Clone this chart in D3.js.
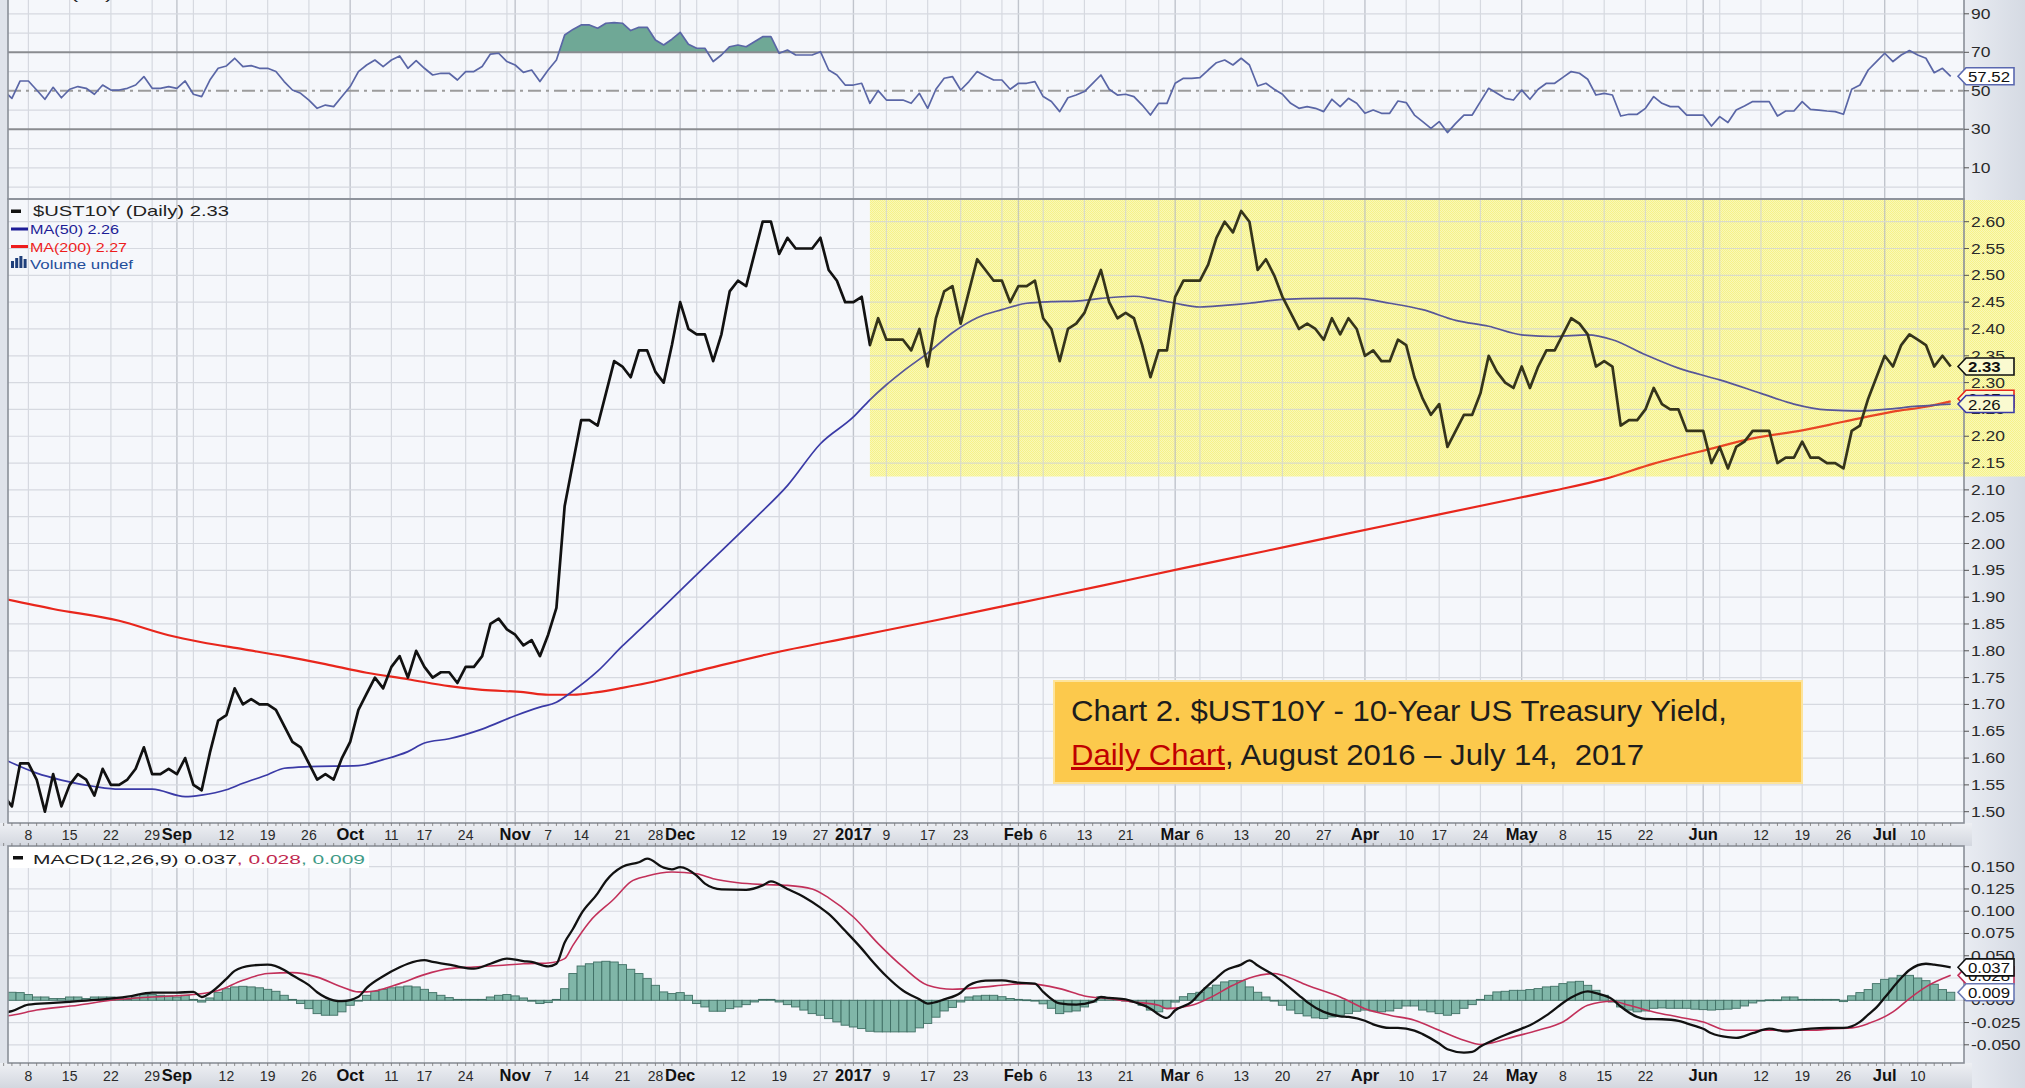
<!DOCTYPE html>
<html>
<head>
<meta charset="utf-8">
<script src="https://cdn.jsdelivr.net/npm/d3@7"></script>
<style>
  html, body { margin: 0; padding: 0; background: #dfe3ea; }
  svg { display: block; }
  text { font-family: "Liberation Sans", Arial, sans-serif; }
</style>
</head>
<body>
<svg id="chart" width="2025" height="1088"></svg>
<script>
// ---- data ----
var startDate = "2016-08-03";
var holidays = ["2016-09-05", "2016-10-10", "2016-11-11", "2016-11-24", "2016-12-26", "2017-01-02",
  "2017-01-16", "2017-02-20", "2017-04-14", "2017-05-29", "2017-07-04"];

// $UST10Y daily close, one value per trading day from Aug 3 2016 to Jul 14 2017
var price = [
  1.53, 1.51, 1.59, 1.59, 1.56, 1.50, 1.57, 1.51, 1.55, 1.57, 1.56, 1.53, 1.58, 1.55, 1.55, 1.56, 1.58, 1.62, 1.57, 1.57, 1.58,
  1.57, 1.60, 1.55, 1.54, 1.61, 1.67, 1.68, 1.73, 1.70, 1.71, 1.70, 1.70, 1.69, 1.66, 1.63, 1.62, 1.59, 1.56, 1.57, 1.56, 1.60,
  1.63, 1.69, 1.72, 1.75, 1.73, 1.77, 1.79, 1.75, 1.80, 1.77, 1.75, 1.76, 1.76, 1.74, 1.77, 1.77, 1.79, 1.85, 1.86, 1.84,
  1.83, 1.81, 1.82, 1.79, 1.83, 1.88, 2.07, 2.15, 2.23, 2.23, 2.22, 2.28, 2.34, 2.33, 2.31, 2.36, 2.36, 2.32, 2.30, 2.37,
  2.45, 2.40, 2.39, 2.39, 2.34, 2.39, 2.47, 2.49, 2.48, 2.54, 2.60, 2.60, 2.54, 2.57, 2.55, 2.55, 2.55, 2.57, 2.51, 2.49, 2.45,
  2.45, 2.46, 2.37, 2.42, 2.38, 2.38, 2.38, 2.36, 2.40, 2.33, 2.42, 2.47, 2.48, 2.41, 2.47, 2.53, 2.51, 2.49, 2.49, 2.45,
  2.48, 2.48, 2.49, 2.42, 2.40, 2.34, 2.40, 2.41, 2.43, 2.47, 2.51, 2.45, 2.42, 2.43, 2.42, 2.37, 2.31, 2.36, 2.36,
  2.46, 2.49, 2.49, 2.49, 2.52, 2.57, 2.60, 2.58, 2.62, 2.60, 2.51, 2.53, 2.50, 2.46, 2.43, 2.40, 2.41, 2.40, 2.38, 2.42, 2.39, 2.42, 2.40,
  2.35, 2.36, 2.34, 2.34, 2.38, 2.37, 2.31, 2.27, 2.24, 2.26, 2.18, 2.21, 2.24, 2.24, 2.28, 2.35, 2.32, 2.30, 2.29,
  2.33, 2.29, 2.33, 2.36, 2.36, 2.39, 2.42, 2.41, 2.39, 2.33, 2.34, 2.33, 2.22, 2.23, 2.23, 2.25, 2.29, 2.26, 2.25, 2.25, 2.21, 2.21,
  2.21, 2.15, 2.18, 2.14, 2.18, 2.19, 2.21, 2.21, 2.21, 2.15, 2.16, 2.16, 2.19, 2.16, 2.16, 2.15, 2.15, 2.14, 2.21, 2.22, 2.27, 2.31,
  2.35, 2.33, 2.37, 2.39, 2.38, 2.37, 2.33, 2.35, 2.33
];

// RSI(14), same days
var rsi = [
  50, 46.1, 55.1, 55.1, 50.4, 45.6, 51.8, 46.4, 50.8, 52.2, 51.3, 48.2, 53.0, 50.4, 50.4, 51.3, 53.0, 57.4, 51.3, 51.3, 52.2,
  51.3, 55.1, 48.2, 47.0, 55.6, 61.7, 62.9, 66.9, 62.6, 63.1, 61.7, 61.7, 60.0, 54.8, 50.4, 48.7, 45.2, 40.9, 42.6, 41.8, 47.0,
  52.2, 60.0, 63.4, 66.0, 62.6, 66.0, 68.1, 61.7, 65.7, 61.7, 58.2, 59.1, 59.1, 55.6, 60.0, 60.0, 62.6, 69.1, 69.5, 65.2,
  63.4, 59.6, 60.8, 54.8, 60.8, 66.0, 79.0, 81.9, 84.2, 84.2, 82.5, 85.1, 85.4, 85.1, 81.3, 83.0, 83.0, 76.4, 73.8, 76.8,
  80.4, 74.2, 72.1, 72.1, 65.2, 68.6, 72.9, 73.8, 72.9, 75.5, 78.1, 78.1, 69.5, 71.2, 68.6, 68.6, 68.6, 70.3, 60.8, 58.2, 53.0,
  53.0, 53.9, 43.5, 50.1, 45.2, 45.2, 45.2, 43.5, 48.7, 40.9, 50.8, 56.5, 57.4, 50.4, 54.8, 60.0, 57.7, 55.6, 55.6, 50.8,
  53.9, 53.9, 54.8, 47.0, 44.4, 39.2, 46.4, 47.8, 49.6, 53.9, 58.2, 50.8, 47.8, 48.2, 47.0, 42.6, 37.4, 43.5, 43.5,
  53.9, 56.5, 56.5, 56.8, 60.8, 64.6, 66.0, 63.4, 66.9, 63.4, 52.5, 53.9, 50.8, 48.2, 43.5, 40.9, 41.8, 40.9, 39.2, 45.6, 41.8, 46.1, 43.5,
  38.3, 40.0, 38.3, 38.3, 44.7, 43.9, 37.4, 34.0, 30.5, 34.0, 28.3, 33.1, 37.4, 37.4, 44.4, 51.3, 48.7, 46.1, 45.2,
  50.4, 45.6, 50.8, 53.9, 53.9, 57.0, 60.0, 59.1, 56.0, 47.8, 48.7, 47.8, 36.9, 37.8, 37.8, 40.9, 47.0, 43.5, 41.8, 41.8, 37.4, 37.4,
  37.4, 31.7, 36.6, 33.5, 40.0, 42.1, 44.4, 44.4, 44.4, 36.9, 39.5, 39.5, 44.4, 40.4, 40.0, 39.5, 39.2, 37.8, 50.8, 53.0, 60.8, 65.2,
  69.5, 65.2, 68.6, 70.9, 68.6, 66.9, 59.4, 61.7, 57.5
];

// MACD histogram, same days
var hist = [
  0.009, 0.009, 0.0086, 0.0064, 0.0037, 0.0037, 0.0019, 0.0019, 0.0037, 0.0037, 0.0019, 0.0037, 0.0037, 0.0037, 0.0026, 0.001, 0.0037, 0.0064, 0.0064, 0.0056, 0.0049,
  0.0037, 0.0056, 0.001, -0.002, 0.0026, 0.009, 0.013, 0.015, 0.0157, 0.015, 0.014, 0.0123, 0.0101, 0.0056, 0.001, -0.0037, -0.0094, -0.015, -0.0168, -0.0168, -0.013,
  -0.0056, 0, 0.0056, 0.0101, 0.0123, 0.014, 0.015, 0.016, 0.015, 0.0123, 0.0086, 0.0056, 0.003, 0.001, 0.001, 0.001, 0.001, 0.0037, 0.0056, 0.0064,
  0.0049, 0.0026, -0.001, -0.0037, -0.0026, 0.001, 0.013, 0.030, 0.0385, 0.041, 0.043, 0.0438, 0.043, 0.040, 0.0348, 0.030, 0.0243, 0.0168, 0.0094, 0.0075,
  0.0086, 0.0056, -0.0037, -0.0075, -0.0123, -0.0123, -0.0094, -0.0075, -0.0049, -0.0019, 0.001, 0.001, -0.0019, -0.0049, -0.0075, -0.011, -0.015, -0.0168, -0.0206, -0.0243, -0.028,
  -0.030, -0.0318, -0.0348, -0.0355, -0.0355, -0.0355, -0.0355, -0.0355, -0.031, -0.026, -0.019, -0.012, -0.008, -0.0019, 0.0037, 0.0049, 0.0056, 0.0056, 0.004, 0.002,
  0.001, 0.0005, 0, -0.004, -0.009, -0.015, -0.013, -0.012, -0.0075, -0.002, 0.004, 0.003, 0.001, 0, -0.002, -0.0056, -0.011, -0.013, -0.009,
  -0.002, 0.004, 0.0075, 0.009, 0.014, 0.017, 0.0206, 0.022, 0.022, 0.015, 0.009, 0.0037, 0, -0.0056, -0.011, -0.015, -0.0176, -0.0198, -0.0206, -0.0187, -0.0168, -0.015, -0.0123,
  -0.011, -0.012, -0.013, -0.012, -0.009, -0.0064, -0.0064, -0.011, -0.013, -0.015, -0.0168, -0.015, -0.009, -0.0049, 0.001, 0.0056, 0.0094, 0.0101, 0.0112,
  0.0112, 0.012, 0.0131, 0.015, 0.0157, 0.0187, 0.0206, 0.0213, 0.0168, 0.0112, 0.0056, -0.002, -0.0075, -0.011, -0.013, -0.012, -0.009, -0.0086, -0.009, -0.009, -0.009, -0.010,
  -0.0105, -0.011, -0.0105, -0.010, -0.009, -0.0064, -0.003, 0, 0.0005, 0.0005, 0.0037, 0.0037, 0.001, 0.001, 0.001, 0.001, 0.001, -0.0015, 0.005, 0.0086, 0.012, 0.0187,
  0.0235, 0.025, 0.028, 0.028, 0.025, 0.022, 0.018, 0.012, 0.009
];

// smooth lines, read at knots; day numbers count trading days from Aug 8 2016
var knotBase = "2016-08-08";
var ma50Day = [-3, 1, 4, 8, 11, 15, 19, 21, 24, 26, 29, 31, 34, 40, 43, 46, 48, 51, 55, 59, 62, 64, 66, 69, 72, 74, 81, 88, 92, 96,
  100, 102, 104, 106, 109, 112, 115, 118, 121, 124, 127, 130, 134, 136, 139, 142, 145, 148, 152, 157, 161, 165, 169, 173, 177, 181,
  185, 189, 192, 196, 200, 205, 210, 214, 218, 222, 225, 229, 233];
var ma50 = [1.598, 1.572, 1.559, 1.547, 1.542, 1.542, 1.528, 1.531, 1.541, 1.553, 1.569, 1.581, 1.584, 1.586, 1.597, 1.612, 1.628,
  1.636, 1.654, 1.679, 1.695, 1.704, 1.725, 1.762, 1.809, 1.838, 1.942, 2.046, 2.108, 2.186, 2.236, 2.268, 2.296, 2.321, 2.355, 2.393,
  2.421, 2.436, 2.448, 2.451, 2.452, 2.457, 2.461, 2.457, 2.448, 2.441, 2.444, 2.448, 2.455, 2.457, 2.457, 2.448, 2.436, 2.416, 2.405,
  2.389, 2.386, 2.389, 2.38, 2.352, 2.327, 2.305, 2.28, 2.26, 2.249, 2.247, 2.25, 2.256, 2.26];
var ma200Day = [-3, 3, 11, 17, 21, 26, 31, 36, 41, 46, 51, 55, 60, 63, 66, 69, 72, 75, 81, 90, 100, 110, 120, 130, 140, 150, 160,
  170, 180, 185, 191, 197, 204, 209, 215, 220, 226, 230, 233];
var ma200 = [1.897, 1.878, 1.856, 1.829, 1.816, 1.803, 1.79, 1.775, 1.759, 1.747, 1.734, 1.727, 1.723, 1.718, 1.718, 1.723, 1.731,
  1.74, 1.762, 1.795, 1.826, 1.857, 1.889, 1.921, 1.954, 1.986, 2.019, 2.051, 2.083, 2.099, 2.12, 2.149, 2.177, 2.196, 2.211, 2.227,
  2.246, 2.255, 2.265];
var macdDay = [-3, -2, 0, 3, 6, 9, 12, 15, 18, 20, 21, 22, 24, 25, 27, 29, 31, 32, 34, 35, 37, 38, 40, 41, 43, 45, 46, 48, 49, 51,
  52, 54, 56, 58, 60, 61, 63, 64, 65, 66, 67, 69, 70, 72, 74, 75, 77, 78, 79, 81, 82, 84, 87, 89, 90, 92, 94, 96, 97, 99,
  101, 102, 104, 106, 108, 109, 111, 113, 114, 116, 118, 120, 122, 123, 125, 127, 129, 130, 131, 133, 134, 136, 137, 138, 139, 141,
  142, 144, 145, 147, 148, 149, 151, 152, 154, 155, 157, 159, 160, 162, 163, 165, 166, 168, 169, 171, 172, 174, 175, 176, 178, 179,
  181, 182, 184, 186, 187, 189, 190, 192, 193, 195, 196, 198, 200, 201, 203, 204, 206, 207, 209, 211, 213, 214, 216, 218, 220, 222,
  223, 224, 225, 227, 228, 230, 231, 233];
var macd = [-0.014, -0.0123, -0.0049, -0.003, -0.001, 0.001, 0.004, 0.0086, 0.0086, 0.0094, 0.0037, 0.008, 0.024, 0.033, 0.039,
  0.040, 0.034, 0.028, 0.017, 0.009, 0.0, -0.001, 0.004, 0.014, 0.027, 0.037, 0.041, 0.045, 0.043, 0.040, 0.038, 0.0355, 0.041,
  0.0468, 0.044, 0.043, 0.038, 0.041, 0.065, 0.080, 0.097, 0.120, 0.134, 0.150, 0.155, 0.159, 0.149, 0.147, 0.1496, 0.140, 0.131,
  0.1245, 0.124, 0.129, 0.1335, 0.125, 0.116, 0.104, 0.097, 0.078, 0.058, 0.047, 0.027, 0.011, 0.001, -0.0037, 0.001, 0.0085,
  0.0168, 0.022, 0.0224, 0.0198, 0.0187, 0.0094, -0.0035, -0.0049, -0.0019, 0.0037, 0.0026, 0.0011, -0.0019, -0.0094, -0.016,
  -0.0198, -0.0112, -0.0019, 0.008, 0.025, 0.033, 0.040, 0.0449, 0.039, 0.028, 0.021, 0.0056, -0.002, -0.013, -0.018, -0.0187,
  -0.023, -0.027, -0.031, -0.031, -0.034, -0.038, -0.0486, -0.055, -0.0587, -0.058, -0.052, -0.043, -0.039, -0.0318, -0.028,
  -0.017, -0.003, 0.003, 0.010, 0.008, 0.001, -0.007, -0.0187, -0.021, -0.0213, -0.023, -0.026, -0.032, -0.037, -0.0415, -0.0423,
  -0.037, -0.0318, -0.035, -0.0337, -0.0318, -0.031, -0.031, -0.0243, -0.016, -0.008, 0.003, 0.025, 0.034, 0.041, 0.040, 0.037];
var signalDay = [-3, -2, 1, 6, 10, 15, 20, 23, 26, 29, 32, 35, 38, 40, 41, 45, 48, 51, 54, 57, 60, 63, 65, 66, 68, 71, 73, 75, 78,
  81, 83, 86, 89, 92, 95, 97, 100, 103, 106, 109, 112, 116, 118, 121, 125, 128, 131, 134, 137, 138, 141, 143, 146, 148, 151, 152,
  155, 159, 162, 165, 168, 171, 174, 176, 177, 180, 183, 186, 189, 192, 194, 197, 200, 203, 206, 210, 213, 216, 219, 221, 223, 226,
  228, 230, 233];
var signal = [-0.018, -0.0168, -0.011, -0.0056, 0, 0.0037, 0.0064, 0.011, 0.0224, 0.030, 0.031, 0.026, 0.015, 0.0094, 0.0094,
  0.0187, 0.0288, 0.0355, 0.0374, 0.039, 0.041, 0.0419, 0.0468, 0.0617, 0.088, 0.114, 0.133, 0.1395, 0.144, 0.142, 0.1365, 0.132,
  0.130, 0.129, 0.125, 0.115, 0.0935, 0.0636, 0.0374, 0.0168, 0.0123, 0.015, 0.0168, 0.0187, 0.0131, 0.0049, 0.0019, -0.0019,
  -0.0056, -0.0094, -0.0056, 0.0019, 0.0168, 0.025, 0.030, 0.028, 0.0168, 0.0037, -0.0094, -0.0168, -0.0224, -0.0337, -0.0449,
  -0.0497, -0.0486, -0.0411, -0.0337, -0.0243, -0.0056, -0.0011, -0.0056, -0.0131, -0.0187, -0.0243, -0.0337, -0.0337, -0.0337,
  -0.0337, -0.0318, -0.031, -0.0262, -0.0131, 0.0019, 0.015, 0.028];

// x axis labels
var tickDates = ["2016-08-08", "2016-08-15", "2016-08-22", "2016-08-29", "2016-09-01", "2016-09-12", "2016-09-19", "2016-09-26",
  "2016-10-03", "2016-10-11", "2016-10-17", "2016-10-24", "2016-11-01", "2016-11-07", "2016-11-14", "2016-11-21", "2016-11-28",
  "2016-12-01", "2016-12-12", "2016-12-19", "2016-12-27", "2017-01-03", "2017-01-09", "2017-01-17", "2017-01-23", "2017-02-01",
  "2017-02-06", "2017-02-13", "2017-02-21", "2017-03-01", "2017-03-06", "2017-03-13", "2017-03-20", "2017-03-27", "2017-04-03",
  "2017-04-10", "2017-04-17", "2017-04-24", "2017-05-01", "2017-05-08", "2017-05-15", "2017-05-22", "2017-06-01", "2017-06-12",
  "2017-06-19", "2017-06-26", "2017-07-03", "2017-07-10"];
var tickLabels = ["8", "15", "22", "29", "Sep", "12", "19", "26", "Oct", "11", "17", "24", "Nov", "7", "14", "21", "28", "Dec",
  "12", "19", "27", "2017", "9", "17", "23", "Feb", "6", "13", "21", "Mar", "6", "13", "20", "27", "Apr", "10", "17", "24", "May",
  "8", "15", "22", "Jun", "12", "19", "26", "Jul", "10"];

var rsiTicks = [10, 30, 50, 70, 90];
var priceTicks = d3.range(0, 23).map(function (i) { return +(1.50 + i * 0.05).toFixed(2); });
var macdTicks = [-0.05, -0.025, 0, 0.025, 0.05, 0.075, 0.1, 0.125, 0.15];

var hiliteStart = "2017-01-05", hiliteFloor = 2.125;
var lastClose = 2.33, lastMa50 = 2.26, lastMa200 = 2.27, lastRsi = 57.52;
var lastMacd = 0.037, lastSignal = 0.028, lastHist = 0.009;

// ---- layout ----
var W = 2025, H = 1088;
var plotL = 8, plotR = 1964;
var rsiBot = 199, mainTop = 199, mainBot = 823, macdTop = 846, macdBot = 1063;

// trading calendar
var fmt = d3.timeFormat("%Y-%m-%d");
var dates = [];
var cur = new Date(startDate + "T12:00:00");
while (dates.length < price.length) {
  var s = fmt(cur), wd = cur.getDay();
  if (wd !== 0 && wd !== 6 && holidays.indexOf(s) < 0) dates.push(s);
  cur.setDate(cur.getDate() + 1);
}
var dayOf = {};
dates.forEach(function (s, i) { dayOf[s] = i; });
var k0 = dayOf[knotBase];

var minorDays = [], majorDays = [];
dates.forEach(function (s, i) {
  if (i === 0) return;
  var a = new Date(s + "T12:00:00"), b = new Date(dates[i - 1] + "T12:00:00");
  if (a.getMonth() !== b.getMonth()) majorDays.push(i);
  else if (d3.timeMonday.floor(a).getTime() !== d3.timeMonday.floor(b).getTime()) minorDays.push(i);
});

var x = d3.scaleLinear().domain([k0, k0 + 229]).range([28.4, 1917.7]);
var yRsi = d3.scaleLinear().domain([30, 70]).range([129.3, 52.3]);
var yPrice = d3.scaleLinear().domain([1.50, 2.60]).range([811.7, 221.7]);
var yMacd = d3.scaleLinear().domain([-0.05, 0.15]).range([1044.8, 866.7]);

var svg = d3.select("#chart");
var defs = svg.append("defs");

var bandGrad = defs.append("linearGradient").attr("id", "bandGrad")
  .attr("x1", 0).attr("y1", 0).attr("x2", 0).attr("y2", 1);
bandGrad.append("stop").attr("offset", "0%").attr("stop-color", "#eef0f4");
bandGrad.append("stop").attr("offset", "100%").attr("stop-color", "#d3d7df");
var sideGrad = defs.append("linearGradient").attr("id", "sideGrad")
  .attr("x1", 0).attr("y1", 0).attr("x2", 1).attr("y2", 0);
sideGrad.append("stop").attr("offset", "0%").attr("stop-color", "#e9ecf2");
sideGrad.append("stop").attr("offset", "100%").attr("stop-color", "#d5dae3");

// fine yellow dither used by the highlight box
var pat = defs.append("pattern").attr("id", "hilite")
  .attr("width", 2).attr("height", 2).attr("patternUnits", "userSpaceOnUse");
pat.append("rect").attr("width", 2).attr("height", 2).attr("fill", "#fbfbcc");
pat.append("rect").attr("width", 1).attr("height", 1).attr("fill", "#f7f495");
pat.append("rect").attr("x", 1).attr("y", 1).attr("width", 1).attr("height", 1).attr("fill", "#f7f495");

function clip(id, top, bot) {
  defs.append("clipPath").attr("id", id).append("rect")
    .attr("x", plotL).attr("y", top).attr("width", plotR - plotL).attr("height", bot - top);
  return "url(#" + id + ")";
}

// backgrounds
svg.append("rect").attr("width", W).attr("height", H).attr("fill", "#dfe3ea");
svg.append("rect").attr("x", plotR).attr("width", W - plotR).attr("height", H).attr("fill", "url(#sideGrad)");
svg.append("rect").attr("x", 0).attr("y", mainBot).attr("width", plotR + 8).attr("height", macdTop - mainBot).attr("fill", "url(#bandGrad)");
svg.append("rect").attr("x", 0).attr("y", macdBot).attr("width", plotR + 8).attr("height", H - macdBot).attr("fill", "url(#bandGrad)");

var hx = x(dayOf[hiliteStart]);
var hy0 = mainTop + 1, hy1 = yPrice(hiliteFloor);

var panels = [
  { id: "rsiClip", top: -10, bot: rsiBot },
  { id: "mainClip", top: mainTop, bot: mainBot },
  { id: "macdClip", top: macdTop, bot: macdBot }
];
panels.forEach(function (p, pi) {
  p.clip = clip(p.id, p.top, p.bot);
  svg.append("rect").attr("x", plotL).attr("y", p.top).attr("width", plotR - plotL)
    .attr("height", p.bot - p.top).attr("fill", "#f5f7fb");
  if (pi === 1) {
    // yellow highlight base, under grid and lines
    svg.append("rect").attr("x", hx).attr("y", hy0).attr("width", W - hx)
      .attr("height", hy1 - hy0).attr("fill", "url(#hilite)");
  }
  var g = svg.append("g").attr("clip-path", p.clip);
  g.selectAll(".vmin").data(minorDays).enter().append("line")
    .attr("x1", function (d) { return x(d); }).attr("x2", function (d) { return x(d); })
    .attr("y1", p.top).attr("y2", p.bot).attr("stroke", "#d6d9e0").attr("stroke-width", 1.2);
  g.selectAll(".vmaj").data(majorDays).enter().append("line")
    .attr("x1", function (d) { return x(d); }).attr("x2", function (d) { return x(d); })
    .attr("y1", p.top).attr("y2", p.bot).attr("stroke", "#c0c4cc").attr("stroke-width", 1.4);
  p.g = g;
});

// horizontal grids
function hgrid(g, vals, scale) {
  g.selectAll(null).data(vals).enter().append("line")
    .attr("x1", plotL).attr("x2", plotR)
    .attr("y1", function (d) { return scale(d); }).attr("y2", function (d) { return scale(d); })
    .attr("stroke", "#d6d9e0").attr("stroke-width", 1.2);
}
hgrid(panels[0].g, [0, 10, 20, 40, 60, 80, 90, 100], yRsi);
hgrid(panels[1].g, priceTicks, yPrice);
hgrid(panels[2].g, d3.range(-3, 8).map(function (i) { return i * 0.025; }), yMacd);

// ---- RSI panel ----
var gR = panels[0].g;
var rsiPts = rsi.map(function (v, i) { return [i, v]; });
var rsiArea = d3.area().x(function (d) { return x(d[0]); }).y1(function (d) { return yRsi(d[1]); });
defs.append("clipPath").attr("id", "above70").append("rect")
  .attr("x", plotL).attr("y", -10).attr("width", plotR - plotL).attr("height", yRsi(70) + 10);
defs.append("clipPath").attr("id", "below30").append("rect")
  .attr("x", plotL).attr("y", yRsi(30)).attr("width", plotR - plotL).attr("height", rsiBot - yRsi(30));
gR.append("path").datum(rsiPts).attr("clip-path", "url(#above70)")
  .attr("d", rsiArea.y0(yRsi(70))).attr("fill", "#6fa896");
gR.append("path").datum(rsiPts).attr("clip-path", "url(#below30)")
  .attr("d", rsiArea.y0(yRsi(30))).attr("fill", "#6fa896");
[30, 70].forEach(function (v) {
  gR.append("line").attr("x1", plotL).attr("x2", plotR).attr("y1", yRsi(v)).attr("y2", yRsi(v))
    .attr("stroke", "#8a8c90").attr("stroke-width", 2);
});
gR.append("line").attr("x1", plotL).attr("x2", plotR).attr("y1", yRsi(50)).attr("y2", yRsi(50))
  .attr("stroke", "#9c9c9c").attr("stroke-width", 2).attr("stroke-dasharray", "13,5,3,5");
gR.append("path").datum(rsiPts)
  .attr("d", d3.line().x(function (d) { return x(d[0]); }).y(function (d) { return yRsi(d[1]); }))
  .attr("fill", "none").attr("stroke", "#5a66a6").attr("stroke-width", 1.7).attr("stroke-linejoin", "round");
svg.append("text").attr("x", 30).attr("y", -1).attr("font-size", 15).attr("fill", "#222")
  .attr("textLength", 150).attr("lengthAdjust", "spacingAndGlyphs").text("RSI(14) 57.52");

// ---- price panel ----
var gP = panels[1].g;
function knotLine(days, vals, scale) {
  var pts = days.map(function (d, i) { return [k0 + d, vals[i]]; });
  return d3.line().curve(d3.curveMonotoneX)
    .x(function (d) { return x(d[0]); }).y(function (d) { return scale(d[1]); })(pts);
}
gP.append("path").attr("d", knotLine(ma200Day, ma200, yPrice))
  .attr("fill", "none").attr("stroke", "#e8261c").attr("stroke-width", 2.2);
gP.append("path").attr("d", knotLine(ma50Day, ma50, yPrice))
  .attr("fill", "none").attr("stroke", "#3a3aa6").attr("stroke-width", 1.7);
gP.append("path").datum(price)
  .attr("d", d3.line().x(function (d, i) { return x(i); }).y(function (d) { return yPrice(d); }))
  .attr("fill", "none").attr("stroke", "#111").attr("stroke-width", 2.7).attr("stroke-linejoin", "round");

// legend
var leg = svg.append("g");
leg.append("rect").attr("x", 11).attr("y", 209.5).attr("width", 10).attr("height", 3.5).attr("fill", "#111");
leg.append("text").attr("x", 33).attr("y", 216).attr("font-size", 14.5).attr("fill", "#222")
  .attr("textLength", 196).attr("lengthAdjust", "spacingAndGlyphs").text("$UST10Y (Daily) 2.33");
leg.append("rect").attr("x", 11).attr("y", 227.5).attr("width", 17).attr("height", 3).attr("fill", "#1c1c96");
leg.append("text").attr("x", 30).attr("y", 234).attr("font-size", 12.5).attr("fill", "#1c1c96")
  .attr("textLength", 89).attr("lengthAdjust", "spacingAndGlyphs").text("MA(50) 2.26");
leg.append("rect").attr("x", 11).attr("y", 245).attr("width", 17).attr("height", 3).attr("fill", "#ee1c1c");
leg.append("text").attr("x", 30).attr("y", 251.5).attr("font-size", 12.5).attr("fill", "#ee1c1c")
  .attr("textLength", 97).attr("lengthAdjust", "spacingAndGlyphs").text("MA(200) 2.27");
[0, 1, 2, 3].forEach(function (i) {
  var hts = [7, 10, 12, 9];
  leg.append("rect").attr("x", 11 + i * 4.2).attr("y", 268 - hts[i]).attr("width", 3)
    .attr("height", hts[i]).attr("fill", "#1f3f7a");
});
leg.append("text").attr("x", 30).attr("y", 268.5).attr("font-size", 12.5).attr("fill", "#1f4e9a")
  .attr("textLength", 103).attr("lengthAdjust", "spacingAndGlyphs").text("Volume undef");

// ---- MACD panel ----
var gM = panels[2].g;
gM.selectAll(".bar").data(hist).enter().append("rect")
  .attr("x", function (d, i) { return x(i) - 4.1; })
  .attr("width", 8.2)
  .attr("y", function (d) { return Math.min(yMacd(d), yMacd(0)); })
  .attr("height", function (d) { return Math.max(0.8, Math.abs(yMacd(d) - yMacd(0))); })
  .attr("fill", "#80b6a8").attr("stroke", "#3f6f64").attr("stroke-width", 0.9);
gM.append("path").attr("d", knotLine(signalDay, signal, yMacd))
  .attr("fill", "none").attr("stroke", "#c2305a").attr("stroke-width", 1.6);
gM.append("path").attr("d", knotLine(macdDay, macd, yMacd))
  .attr("fill", "none").attr("stroke", "#111").attr("stroke-width", 2.3);
svg.append("rect").attr("x", plotL + 1).attr("y", macdTop + 1).attr("width", 360).attr("height", 21).attr("fill", "#fff");
svg.append("rect").attr("x", 13).attr("y", 856).attr("width", 10).attr("height", 3.5).attr("fill", "#111");
var mt = svg.append("text").attr("x", 33).attr("y", 863.5).attr("font-size", 13.5)
  .attr("textLength", 332).attr("lengthAdjust", "spacingAndGlyphs");
mt.append("tspan").attr("fill", "#222").text("MACD(12,26,9) " + lastMacd.toFixed(3));
mt.append("tspan").attr("fill", "#c0284f").text(", " + lastSignal.toFixed(3));
mt.append("tspan").attr("fill", "#3f9a86").text(", " + lastHist.toFixed(3));

// thin yellow veil over the lines inside the highlight
svg.append("rect").attr("x", hx).attr("y", hy0).attr("width", W - hx)
  .attr("height", hy1 - hy0).attr("fill", "#f4ee50").attr("opacity", 0.16);

// panel borders
panels.forEach(function (p) {
  svg.append("rect").attr("x", plotL).attr("y", p.top).attr("width", plotR - plotL)
    .attr("height", p.bot - p.top).attr("fill", "none").attr("stroke", "#8a8f98").attr("stroke-width", 1.6);
});

// ---- right axes ----
function stext(parent, tx, ty, str, size, sx) {
  return parent.append("text")
    .attr("transform", "translate(" + tx + "," + ty + ") scale(" + sx + ",1)")
    .attr("font-size", size).text(str);
}
var ax = svg.append("g").attr("fill", "#2a2a2a");
function rightAxis(vals, scale, fmtf) {
  vals.forEach(function (v) {
    ax.append("line").attr("x1", plotR).attr("x2", plotR + 5).attr("y1", scale(v)).attr("y2", scale(v))
      .attr("stroke", "#555").attr("stroke-width", 1);
    stext(ax, plotR + 7, scale(v) + 5, fmtf(v), 14, 1.25);
  });
}
rightAxis(rsiTicks, yRsi, function (v) { return String(v); });
rightAxis(priceTicks, yPrice, function (v) { return v.toFixed(2); });
rightAxis(macdTicks, yMacd, function (v) { return v.toFixed(3); });

// ---- x bands ----
function band(top, bot) {
  var g = svg.append("g");
  g.selectAll(null).data(dates).enter().append("line")
    .attr("x1", function (d, i) { return x(i); }).attr("x2", function (d, i) { return x(i); })
    .attr("y1", top).attr("y2", top + 3).attr("stroke", "#777").attr("stroke-width", 0.8);
  if (bot) {
    g.selectAll(null).data(dates).enter().append("line")
      .attr("x1", function (d, i) { return x(i); }).attr("x2", function (d, i) { return x(i); })
      .attr("y1", bot - 3).attr("y2", bot).attr("stroke", "#777").attr("stroke-width", 0.8);
  }
  return g;
}
function bandLabels(g, base) {
  tickDates.forEach(function (s, i) {
    var lab = tickLabels[i];
    var bold = isNaN(+lab) || lab === "2017";
    g.append("text").attr("x", x(dayOf[s])).attr("y", base)
      .attr("text-anchor", "middle")
      .attr("font-size", bold ? 16.5 : 14)
      .attr("font-weight", bold ? "bold" : "normal")
      .attr("fill", bold ? "#111" : "#2a2a2a")
      .text(lab);
  });
}
bandLabels(band(mainBot, macdTop), 840);
bandLabels(band(macdBot, null), 1081);

// ---- value tags ----
function tag(yc, str, stroke, bold, fill) {
  var x0 = plotR - 6, h = 17, w = 48;
  svg.append("path")
    .attr("d", "M" + x0 + "," + yc + "L" + (x0 + 8) + "," + (yc - h / 2) + "H" + (x0 + 8 + w) +
      "V" + (yc + h / 2) + "H" + (x0 + 8) + "Z")
    .attr("fill", fill || "#fff").attr("stroke", stroke).attr("stroke-width", 1.6);
  stext(svg, x0 + 10, yc + 5.5, str, 14, 1.2)
    .attr("fill", "#111").attr("font-weight", bold ? "bold" : "normal");
}
tag(yRsi(lastRsi), lastRsi.toFixed(2), "#5a68b0");
tag(yPrice(lastMa200), lastMa200.toFixed(2), "#e8261c", false, "#fafad0");
tag(yPrice(lastMa50), lastMa50.toFixed(2), "#3a3aa6", false, "#fafad0");
tag(yPrice(lastClose), lastClose.toFixed(2), "#111", true, "#fafad0");
tag(yMacd(lastSignal), lastSignal.toFixed(3), "#c2305a");
tag(yMacd(lastMacd), lastMacd.toFixed(3), "#111");
tag(yMacd(lastHist), lastHist.toFixed(3), "#6a78b4");

// ---- caption box ----
var cap = svg.append("g");
cap.append("rect").attr("x", 1054).attr("y", 681).attr("width", 748).attr("height", 102)
  .attr("fill", "#fcc94c").attr("stroke", "#fde49c").attr("stroke-width", 2);
cap.append("text").attr("x", 1071).attr("y", 721).attr("font-family", "Lato, 'Open Sans', sans-serif")
  .attr("font-size", 30).attr("fill", "#1d1d1d")
  .attr("textLength", 656).attr("lengthAdjust", "spacingAndGlyphs")
  .text("Chart 2. $UST10Y - 10-Year US Treasury Yield,");
var l2 = cap.append("text").attr("x", 1071).attr("y", 765).attr("font-family", "Lato, 'Open Sans', sans-serif")
  .attr("font-size", 30).attr("fill", "#1d1d1d").style("white-space", "pre")
  .attr("textLength", 573).attr("lengthAdjust", "spacingAndGlyphs");
l2.append("tspan").attr("fill", "#c00000").attr("text-decoration", "underline").text("Daily Chart");
l2.append("tspan").text(", August 2016 \u2013 July 14,  2017");
</script>
</body>
</html>
